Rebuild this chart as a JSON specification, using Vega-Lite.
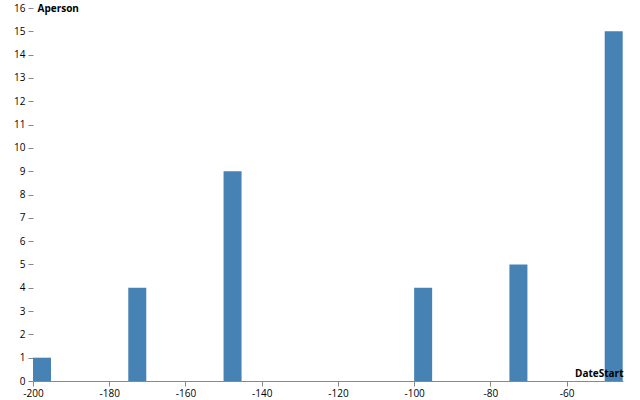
{
  "$schema": "https://vega.github.io/schema/vega-lite/v6.json",
  "autosize": "none",
  "width": 590,
  "height": 373,
  "padding": {"left": 33, "top": 8, "right": 17, "bottom": 19},
  "config": {
    "font": "Open Sans",
    "view": {"stroke": null},
    "axis": {"labelFontSize": 10, "titleFontSize": 10, "labelColor": "#000", "titleColor": "#000", "grid": false}
  },
  "data": {
    "values": [
      {"DateStart": -200, "Aperson": 1},
      {"DateStart": -175, "Aperson": 4},
      {"DateStart": -150, "Aperson": 9},
      {"DateStart": -100, "Aperson": 4},
      {"DateStart": -75, "Aperson": 5},
      {"DateStart": -50, "Aperson": 15}
    ]
  },
  "mark": {"type": "bar", "width": 18, "xOffset": 9, "color": "#4682b4"},
  "encoding": {
    "x": {
      "field": "DateStart",
      "type": "quantitative",
      "scale": {"domain": [-200, -45.2], "nice": false, "zero": false, "padding": 0},
      "axis": {
        "zindex": 1,
        "labelFlush": false,
        "values": [-200, -180, -160, -140, -120, -100, -80, -60],
        "labelExpr": "'' + datum.value",
        "titleX": 590, "titleY": -3, "titleAlign": "right", "titleBaseline": "bottom",
        "titleFontWeight": "bold"
      }
    },
    "y": {
      "field": "Aperson",
      "type": "quantitative",
      "scale": {"domain": [0, 16], "nice": false},
      "axis": {
        "values": [0,1,2,3,4,5,6,7,8,9,10,11,12,13,14,15,16],
        "domain": false,
        "labelPadding": 3,
        "titleAngle": 0, "titleX": 4, "titleY": 0, "titleAlign": "left", "titleBaseline": "middle",
        "titleFontWeight": "bold"
      }
    }
  }
}
